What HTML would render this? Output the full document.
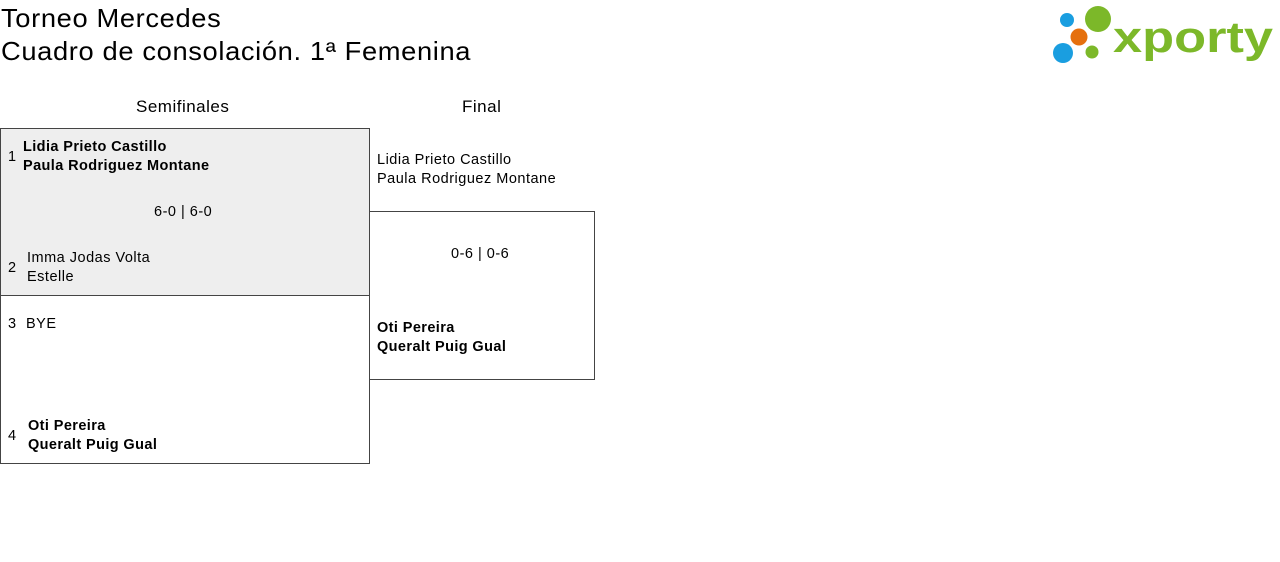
<!DOCTYPE html>
<html><head><meta charset="utf-8"><style>
body{margin:0;width:1280px;height:562px;background:#fff;font-family:"Liberation Sans",sans-serif;color:#000;position:relative;overflow:hidden}
.a{position:absolute;white-space:nowrap}
.t{font-size:26px;line-height:32px;letter-spacing:0.6px;transform:scaleX(1.05);transform-origin:left}
.h{font-size:17px;letter-spacing:0.5px}
.n{font-size:14.5px;line-height:19px;letter-spacing:0.5px}
.b{font-weight:bold;letter-spacing:0.4px}
.box{position:absolute;border:1px solid #444;box-sizing:border-box}
</style></head><body>
<div class="a t" style="left:1px;top:2px">Torneo Mercedes</div>
<div class="a t" style="left:1px;top:35px">Cuadro de consolación. 1ª Femenina</div>
<svg class="a" style="left:1040px;top:0" width="240" height="70">
<circle cx="27" cy="20" r="7" fill="#1a9ee0"/>
<circle cx="58" cy="19" r="13" fill="#7cb829"/>
<circle cx="39" cy="37" r="8.5" fill="#e5700e"/>
<circle cx="23" cy="53" r="10" fill="#1a9ee0"/>
<circle cx="52" cy="52" r="6.5" fill="#7cb829"/>
<text x="73" y="52" font-family="Liberation Sans,sans-serif" font-weight="bold" font-size="44" fill="#7cb829" textLength="160" lengthAdjust="spacingAndGlyphs">xporty</text>
</svg>
<div class="a h" style="left:136px;top:97px">Semifinales</div>
<div class="a h" style="left:462px;top:97px">Final</div>
<div class="box" style="left:0;top:128px;width:370px;height:168px;background:#eee"></div>
<div class="box" style="left:0;top:295px;width:370px;height:169px"></div>
<div class="box" style="left:369px;top:211px;width:226px;height:169px"></div>
<div class="a n" style="left:8px;top:148px">1</div>
<div class="a n b" style="left:23px;top:138px">Lidia Prieto Castillo<br>Paula Rodriguez Montane</div>
<div class="a n" style="left:154px;top:203px">6-0 | 6-0</div>
<div class="a n" style="left:8px;top:259px">2</div>
<div class="a n" style="left:27px;top:249px">Imma Jodas Volta<br>Estelle</div>
<div class="a n" style="left:8px;top:315px">3</div>
<div class="a n" style="left:26px;top:315px">BYE</div>
<div class="a n" style="left:8px;top:427px">4</div>
<div class="a n b" style="left:28px;top:417px">Oti Pereira<br>Queralt Puig Gual</div>
<div class="a n" style="left:377px;top:151px">Lidia Prieto Castillo<br>Paula Rodriguez Montane</div>
<div class="a n" style="left:451px;top:245px">0-6 | 0-6</div>
<div class="a n b" style="left:377px;top:319px">Oti Pereira<br>Queralt Puig Gual</div>
</body></html>
